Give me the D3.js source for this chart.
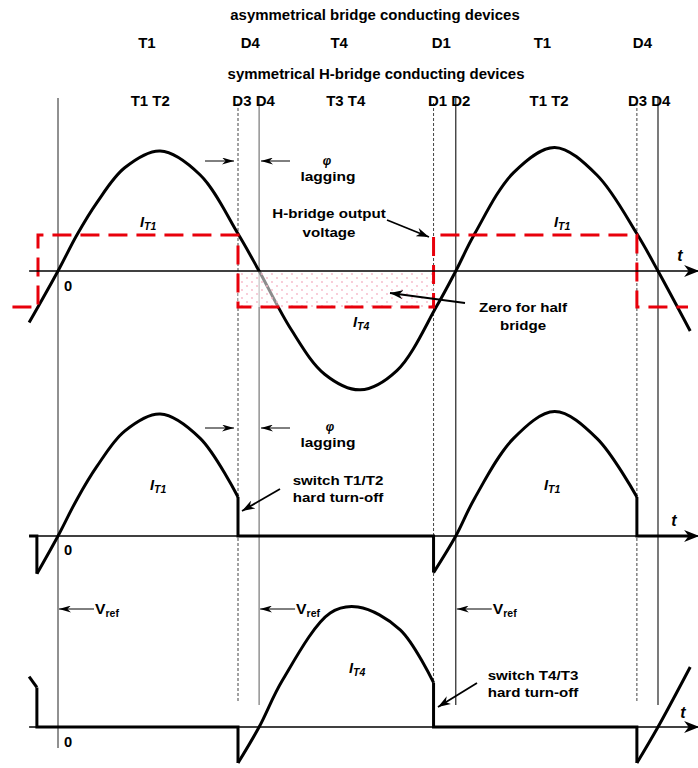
<!DOCTYPE html>
<html>
<head>
<meta charset="utf-8">
<script src="https://cdn.jsdelivr.net/npm/d3@7"></script>
<style>
  body { margin: 0; background: #fff; }
  svg text { font-family: "Liberation Sans", Arial, sans-serif; font-weight: bold; fill: #000; }
</style>
</head>
<body>
<div id="plot"></div>
<script>
// time is in electrical degrees, 0 = zero crossing of the load current
const asymDevices = ["T1", "D4", "T4", "D1", "T1", "D4"];
const asymDeviceAt = [80, 173, 253, 345, 436, 526];
const hDevices = ["T1 T2", "D3 D4", "T3 T4", "D1 D2", "T1 T2", "D3 D4"];
const hDeviceAt = [83, 176, 259, 352, 442, 532];

const switchEdges = [-18, 162, 338, 521];   // voltage edges (dashed guides after the first)
const currentZeros = [0, 181, 358, 540];    // current zero crossings (solid guides)
const vLevel = 0.3;
const vSpan = [-41, 567];

// load current, top panel (per unit of peak)
const loadCurrent = [[-26, -0.43], [0, 0], [17, 0.3], [35, 0.57], [60, 0.86], [92, 1.0], [128, 0.8],
  [162, 0.31], [181, 0], [210, -0.49], [240, -0.86], [272, -0.99], [305, -0.83], [341, -0.29],
  [358, 0], [375, 0.31], [410, 0.82], [447, 1.03], [485, 0.8], [521, 0.31], [540, 0], [569, -0.5]];

// switch T1 current pulses, middle panel
const iT1Pulses = [
  [[-19, -0.31], [0, 0], [17, 0.3], [35, 0.57], [60, 0.86], [92, 1.0], [128, 0.8], [162, 0.32]],
  [[338, -0.3], [358, 0], [375, 0.31], [410, 0.8], [447, 1.02], [485, 0.8], [521, 0.32]]
];
// switch T4 current pulses, bottom panel
const iT4Pulses = [
  [[-26, 0.42], [-19, 0.33]],
  [[162, -0.3], [181, 0], [202, 0.39], [245, 0.95], [270, 1.0], [308, 0.81], [338, 0.37]],
  [[521, -0.3], [540, 0], [569, 0.5]]
];
const tRange = [-26, 575];

const width = 698, height = 768;
const svg = d3.select("#plot").append("svg").attr("width", width).attr("height", height);

const x = d3.scaleLinear().domain([0, 540]).range([58, 658]);
const yTop = d3.scaleLinear().domain([-1, 1]).range([391, 151]);
const yMid = d3.scaleLinear().domain([-1, 1]).range([658, 414]);
const yBot = d3.scaleLinear().domain([-1, 1]).range([847, 607]);

const defs = svg.append("defs");
function marker(id, w, h) {
  defs.append("marker").attr("id", id)
    .attr("markerUnits", "userSpaceOnUse")
    .attr("markerWidth", w).attr("markerHeight", h)
    .attr("refX", w).attr("refY", h / 2).attr("orient", "auto")
    .append("path")
    .attr("d", `M0,0L${w},${h / 2}L0,${h}L${w * 0.3},${h / 2}Z`)
    .attr("fill", "#000");
}
marker("axisHead", 15, 12);
marker("noteHead", 13, 9);
marker("phiHead", 12, 7);

const pat = defs.append("pattern").attr("id", "dots")
  .attr("width", 10).attr("height", 8).attr("patternUnits", "userSpaceOnUse");
pat.append("circle").attr("cx", 2).attr("cy", 2).attr("r", 0.9).attr("fill", "#f5b6c6");
pat.append("circle").attr("cx", 7).attr("cy", 6).attr("r", 0.9).attr("fill", "#f5b6c6");

// vertical guides
svg.append("line").attr("x1", x(0)).attr("x2", x(0)).attr("y1", 98).attr("y2", 748)
  .attr("stroke", "#222").attr("stroke-width", 1);
currentZeros.slice(1).forEach((t, i) => {
  svg.append("line").attr("x1", x(t)).attr("x2", x(t)).attr("y1", 98).attr("y2", 705)
    .attr("stroke", i === 0 ? "#777" : "#222").attr("stroke-width", 1.2);
});
switchEdges.slice(1).forEach(t => {
  svg.append("line").attr("x1", x(t)).attr("x2", x(t)).attr("y1", 103).attr("y2", 703)
    .attr("stroke", "#444").attr("stroke-width", 1).attr("stroke-dasharray", "3,2");
});

const smooth = y => d3.line().x(d => x(d[0])).y(d => y(d[1])).curve(d3.curveCatmullRom.alpha(0.5));
const straight = y => d3.line().x(d => x(d[0])).y(d => y(d[1]));

// top: load current
svg.append("path").attr("d", smooth(yTop)(loadCurrent))
  .attr("fill", "none").attr("stroke", "#000").attr("stroke-width", 3);

// shaded "zero for half bridge" area
const sx0 = x(switchEdges[1]), sx1 = x(switchEdges[2]);
svg.append("rect").attr("x", sx0).attr("y", yTop(0)).attr("width", sx1 - sx0)
  .attr("height", yTop(-vLevel) - yTop(0)).attr("fill", "#fff").attr("opacity", 0.55);
svg.append("rect").attr("x", sx0).attr("y", yTop(0)).attr("width", sx1 - sx0)
  .attr("height", yTop(-vLevel) - yTop(0)).attr("fill", "url(#dots)");

// H-bridge output voltage
const vPts = [[vSpan[0], -vLevel]];
let lvl = -vLevel;
switchEdges.forEach(t => { vPts.push([t, lvl]); lvl = -lvl; vPts.push([t, lvl]); });
vPts.push([vSpan[1], lvl]);
svg.append("path").attr("d", straight(yTop)(vPts))
  .attr("fill", "none").attr("stroke", "#e8000b").attr("stroke-width", 3)
  .attr("stroke-dasharray", "19,9");

// switch current panels
function pulses(list, y) {
  const link = [];
  const first = list[0][0], last = list[list.length - 1];
  const lastPt = last[last.length - 1];
  if (first[0] > tRange[0]) link.push([[tRange[0], 0], [first[0], 0], first]);
  for (let k = 0; k < list.length - 1; k++) {
    const a = list[k][list[k].length - 1], b = list[k + 1][0];
    link.push([a, [a[0], 0], [b[0], 0], b]);
  }
  if (lastPt[0] < tRange[1] - 10) link.push([lastPt, [lastPt[0], 0], [tRange[1] - 5, 0]]);
  link.forEach(p => svg.append("path").attr("d", straight(y)(p))
    .attr("fill", "none").attr("stroke", "#000").attr("stroke-width", 3).attr("stroke-linejoin", "miter"));
  list.forEach(p => svg.append("path").attr("d", smooth(y)(p))
    .attr("fill", "none").attr("stroke", "#000").attr("stroke-width", 3));
}
pulses(iT1Pulses, yMid);
pulses(iT4Pulses, yBot);

// time axes
[yTop, yMid, yBot].forEach(y => {
  svg.append("line").attr("x1", x(tRange[0])).attr("x2", x(577)).attr("y1", y(0)).attr("y2", y(0))
    .attr("stroke", "#000").attr("stroke-width", 1.6).attr("marker-end", "url(#axisHead)");
});

// text helpers
function txt(px, py, s, size, o = {}) {
  const t = svg.append("text")
    .attr("transform", `translate(${px},${py}) scale(${o.sx || 1.12},1)`)
    .attr("text-anchor", o.anchor || "middle")
    .style("font-size", size + "px");
  if (o.italic) t.style("font-style", "italic");
  if (s !== null) t.text(s);
  return t;
}
function current(px, py, sub) {
  const t = txt(px, py, null, 14, { italic: true, anchor: "start", sx: 1.05 });
  t.append("tspan").text("I");
  t.append("tspan").attr("dy", 3).style("font-size", "10px").text(sub);
}
function vref(px, py) {
  const t = txt(px, py, null, 15, { anchor: "start", sx: 1.05 });
  t.append("tspan").text("V");
  t.append("tspan").attr("dy", 3).style("font-size", "10px").text("ref");
}
function arrow(x1, y1, x2, y2, head, w) {
  svg.append("line").attr("x1", x1).attr("y1", y1).attr("x2", x2).attr("y2", y2)
    .attr("stroke", "#000").attr("stroke-width", w).attr("marker-end", `url(#${head})`);
}

// headers
txt(375, 20, "asymmetrical bridge conducting devices", 14, { sx: 1.07 });
asymDevices.forEach((d, i) => txt(x(asymDeviceAt[i]), 48, d, 14, { sx: 1.07 }));
txt(376, 79, "symmetrical H-bridge conducting devices", 14, { sx: 1.07 });
hDevices.forEach((d, i) => txt(x(hDeviceAt[i]), 106, d, 14, { sx: 1.07 }));

// phase lag markers
[161, 428].forEach(py => {
  arrow(205, py, 234, py, "phiHead", 1);
  arrow(290, py, 261, py, "phiHead", 1);
});
txt(327, 165, "φ", 12, { italic: true, sx: 1 });
txt(328, 181, "lagging", 13.5, { sx: 1.15 });
txt(330, 431, "φ", 12, { italic: true, sx: 1 });
txt(328, 447, "lagging", 13.5, { sx: 1.15 });

// annotations
txt(329, 218, "H-bridge output", 13.5, { sx: 1.12 });
txt(329, 237, "voltage", 13.5, { sx: 1.12 });
arrow(387, 220, 429, 237, "noteHead", 1.8);

txt(523, 312, "Zero for half", 13.5, { sx: 1.12 });
txt(523, 330, "bridge", 13.5, { sx: 1.12 });
arrow(465, 303, 390, 293, "noteHead", 1.8);

txt(338, 485, "switch T1/T2", 13.5, { sx: 1.12 });
txt(338, 502, "hard turn-off", 13.5, { sx: 1.12 });
arrow(280, 489, 242, 511, "noteHead", 1.8);

txt(533, 680, "switch T4/T3", 13.5, { sx: 1.12 });
txt(533, 697, "hard turn-off", 13.5, { sx: 1.12 });
arrow(477, 683, 438, 707, "noteHead", 1.8);

// current labels
current(140, 227, "T1");
current(554, 227, "T1");
current(353, 327, "T4");
current(150, 490, "T1");
current(544, 490, "T1");
current(349, 673, "T4");

// reference voltage markers
[0, 181, 358].forEach(t => {
  arrow(x(t) + 36, 609, x(t) + 1, 609, "phiHead", 1);
  vref(x(t) + 37, 614);
});

// axis labels
[291, 555, 747].forEach(py => txt(68, py, "0", 14, { sx: 1.05 }));
txt(680, 261, "t", 16, { italic: true, sx: 1 });
txt(674, 526, "t", 16, { italic: true, sx: 1 });
txt(683, 718, "t", 16, { italic: true, sx: 1 });
</script>
</body>
</html>
